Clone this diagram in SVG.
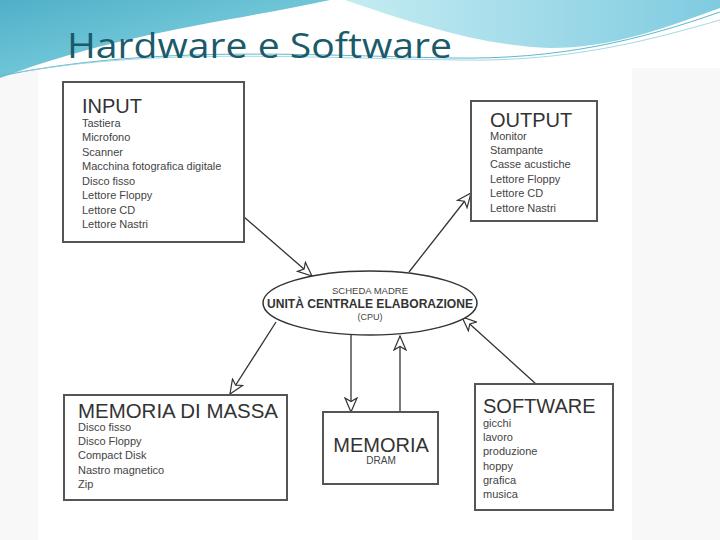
<svg xmlns="http://www.w3.org/2000/svg" width="720" height="540" viewBox="0 0 720 540">
<defs>
<linearGradient id="gL" x1="0" y1="0" x2="1" y2="1">
<stop offset="0" stop-color="#4fb0c8"/>
<stop offset="1" stop-color="#8fdbe6"/>
</linearGradient>
<linearGradient id="gR" x1="0" y1="0" x2="1" y2="0">
<stop offset="0" stop-color="#c5ecf2"/>
<stop offset="1" stop-color="#7fcbe0"/>
</linearGradient>
<marker id="ah" markerWidth="16" markerHeight="14" refX="15" refY="7" orient="auto" markerUnits="userSpaceOnUse">
<path d="M1,1 L15,7 L1,13 L4.5,7 Z" fill="#fff" stroke="#333" stroke-width="1.2"/>
</marker>
<style>
.box{fill:#fff;stroke:#555;stroke-width:2}
.ttl{font-family:"Liberation Sans",Arial,sans-serif;font-size:20px;fill:#333}
.it{font-family:"Liberation Sans",Arial,sans-serif;font-size:11px;fill:#444}
.ln{stroke:#333;stroke-width:1.3;fill:none}
</style>
</defs>
<rect width="720" height="540" fill="#f8f8f8"/>
<rect x="38" y="68" width="594" height="472" fill="#fff"/>
<g id="header">
<rect width="720" height="68" fill="#fff"/>
<path d="M0,0 H330 C240,20 120,32 0,78 Z" fill="url(#gL)"/>
<path d="M345,0 H720 V8 C660,30 610,48 550,48 C480,46 410,22 345,0 Z" fill="url(#gR)"/>
<path d="M0,76 C150,45 300,55 450,58 C560,60 640,40 720,12" stroke="#5fb8cc" stroke-width="1" fill="none"/>
<path d="M20,72 C160,48 300,58 460,60 C570,62 650,40 720,20" stroke="#8ccfdd" stroke-width="0.8" fill="none"/>
<text x="67" y="58" font-family="'Open Sans','Liberation Sans',sans-serif" font-size="34" fill="#1a5a6a" textLength="385" lengthAdjust="spacingAndGlyphs">Hardware e Software</text>
</g>
<g id="connectors">
<line class="ln" x1="244" y1="217" x2="312" y2="276" marker-end="url(#ah)"/>
<line class="ln" x1="409" y1="272" x2="471" y2="193" marker-end="url(#ah)"/>
<line class="ln" x1="276" y1="322" x2="230" y2="394" marker-end="url(#ah)"/>
<line class="ln" x1="351" y1="335" x2="351" y2="412" marker-end="url(#ah)"/>
<line class="ln" x1="400" y1="412" x2="400" y2="336" marker-end="url(#ah)"/>
<line class="ln" x1="536" y1="384" x2="462" y2="317" marker-end="url(#ah)"/>
</g>
<g id="input">
<rect class="box" x="63" y="82" width="181" height="160"/>
<text class="ttl" x="82" y="113">INPUT</text>
<text class="it" x="82" y="127">Tastiera</text>
<text class="it" x="82" y="141">Microfono</text>
<text class="it" x="82" y="156">Scanner</text>
<text class="it" x="82" y="170">Macchina fotografica digitale</text>
<text class="it" x="82" y="185">Disco fisso</text>
<text class="it" x="82" y="199">Lettore Floppy</text>
<text class="it" x="82" y="214">Lettore CD</text>
<text class="it" x="82" y="228">Lettore Nastri</text>
</g>
<g id="output">
<rect class="box" x="471" y="101" width="126" height="120"/>
<text class="ttl" x="490" y="127">OUTPUT</text>
<text class="it" x="490" y="140">Monitor</text>
<text class="it" x="490" y="154">Stampante</text>
<text class="it" x="490" y="168">Casse acustiche</text>
<text class="it" x="490" y="183">Lettore Floppy</text>
<text class="it" x="490" y="197">Lettore CD</text>
<text class="it" x="490" y="212">Lettore Nastri</text>
</g>
<g id="cpu">
<ellipse cx="370" cy="303" rx="107" ry="32" fill="#fff" stroke="#333" stroke-width="1.5"/>
<text x="370" y="294" text-anchor="middle" font-family="'Liberation Sans',Arial,sans-serif" font-size="9.5" fill="#444">SCHEDA MADRE</text>
<text x="370" y="308" text-anchor="middle" font-family="'Liberation Sans',Arial,sans-serif" font-size="12.5" font-weight="bold" fill="#333" textLength="206" lengthAdjust="spacingAndGlyphs">UNITÀ CENTRALE ELABORAZIONE</text>
<text x="370" y="320" text-anchor="middle" font-family="'Liberation Sans',Arial,sans-serif" font-size="9" fill="#444">(CPU)</text>
</g>
<g id="massa">
<rect class="box" x="64" y="395" width="223" height="105"/>
<text class="ttl" x="78" y="418" textLength="200" lengthAdjust="spacingAndGlyphs">MEMORIA DI MASSA</text>
<text class="it" x="78" y="431">Disco fisso</text>
<text class="it" x="78" y="445">Disco Floppy</text>
<text class="it" x="78" y="459">Compact Disk</text>
<text class="it" x="78" y="474">Nastro magnetico</text>
<text class="it" x="78" y="488">Zip</text>
</g>
<g id="memoria">
<rect class="box" x="323" y="412" width="115" height="72"/>
<text class="ttl" x="381" y="452" text-anchor="middle">MEMORIA</text>
<text x="381" y="464" text-anchor="middle" font-family="'Liberation Sans',Arial,sans-serif" font-size="10" fill="#444">DRAM</text>
</g>
<g id="software">
<rect class="box" x="475" y="384" width="138" height="126"/>
<text class="ttl" x="483" y="413">SOFTWARE</text>
<text class="it" x="483" y="427">gicchi</text>
<text class="it" x="483" y="441">lavoro</text>
<text class="it" x="483" y="455">produzione</text>
<text class="it" x="483" y="470">hoppy</text>
<text class="it" x="483" y="484">grafica</text>
<text class="it" x="483" y="498">musica</text>
</g>
</svg>
